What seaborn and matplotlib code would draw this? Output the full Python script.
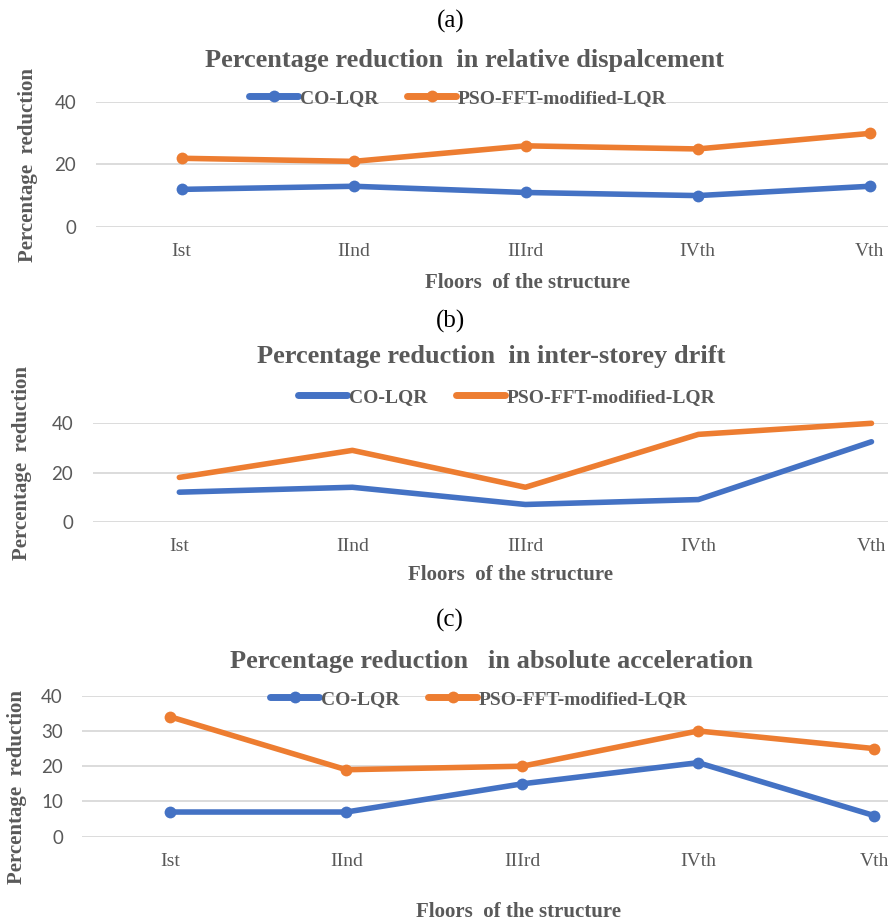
import matplotlib
matplotlib.use("Agg")
import matplotlib.pyplot as plt
import seaborn as sns
import pandas as pd

# Floors and results for the three response quantities
floors = ["Ist", "IInd", "IIIrd", "IVth", "Vth"]
series_names = ["CO-LQR", "PSO-FFT-modified-LQR"]

disp_co = [12, 13, 11, 10, 13]
disp_pso = [22, 21, 26, 25, 30]

drift_co = [12, 14, 7, 9, 32.5]
drift_pso = [18, 29, 14, 35.5, 40]

acc_co = [7, 7, 15, 21, 6]
acc_pso = [34, 19, 20, 30, 25]

panel_tags = ["(a)", "(b)", "(c)"]
titles = [
    "Percentage reduction  in relative dispalcement",
    "Percentage reduction  in inter-storey drift",
    "Percentage reduction   in absolute acceleration",
]
yticks_list = [[0, 20, 40], [0, 20, 40], [0, 10, 20, 30, 40]]

sns.set_style("white")
plt.rcParams["font.family"] = ["Liberation Serif", "DejaVu Serif"]

BLUE = "#4472C4"
ORANGE = "#ED7D31"
GREY = "#595959"
GRID = "#D9D9D9"

W, H = 888, 922
fig = plt.figure(figsize=(W / 100, H / 100), dpi=100)
fig.patch.set_facecolor("white")


def px(x, y):
    """pixel position (from top-left) -> figure fraction"""
    return x / W, 1 - y / H


# axes boxes in pixels: left, right, top(40 line), bottom(0 line)
boxes = [
    (95.7, 955.7, 102.3, 226.7),
    (92.8, 958.0, 423.3, 521.7),
    (82.4, 962.0, 695.7, 836.7),
]
tag_pos = [(451, 21), (450, 321), (450, 620)]
title_pos = [(464, 61), (491, 357), (491, 661)]
legend_pos = [(458, 98), (507, 397), (479, 699)]
xlabel_pos = [(527, 283), (511, 575), (518, 912)]
ylabel_pos = [(28, 165), (22, 463), (17, 787)]
with_markers = [True, False, True]

data_sets = [(disp_co, disp_pso), (drift_co, drift_pso), (acc_co, acc_pso)]

for i, (co, pso) in enumerate(data_sets):
    l, r, t, b = boxes[i]
    ax = fig.add_axes([l / W, 1 - b / H, (r - l) / W, (b - t) / H])
    df = pd.DataFrame({
        "floor": floors * 2,
        "value": list(co) + list(pso),
        "series": [series_names[0]] * 5 + [series_names[1]] * 5,
    })
    mk = "o" if with_markers[i] else None
    for name, color in zip(series_names, [BLUE, ORANGE]):
        sub = df[df["series"] == name]
        sns.lineplot(
            data=sub, x="floor", y="value", ax=ax, color=color, label=name,
            linewidth=4.0, marker=mk, markersize=8.5, markeredgewidth=0,
            sort=False, clip_on=False, solid_capstyle="round",
            solid_joinstyle="round", legend=False,
        )
    ax.set_xlim(-0.5, 4.5)
    ax.set_ylim(0, 40)
    ax.set_yticks(yticks_list[i])
    for s in ax.spines.values():
        s.set_visible(False)
    ax.grid(axis="y", color=GRID, linewidth=1.3)
    ax.grid(axis="x", visible=False)
    ax.set_axisbelow(True)
    ax.tick_params(axis="both", length=0)
    ax.tick_params(axis="y", pad=14, labelsize=13.5, labelcolor=GREY)
    ax.tick_params(axis="x", pad=12, labelsize=14, labelcolor=GREY)
    for lab in ax.get_yticklabels():
        lab.set_family(["Lato", "DejaVu Sans"])
    ax.set_xlabel("")
    ax.set_ylabel("")
    ax.set_facecolor("none")

    # panel tag, title, axis captions
    fig.text(*px(*tag_pos[i]), panel_tags[i], ha="center", va="center",
             fontsize=18, color="black")
    fig.text(*px(*title_pos[i]), titles[i], ha="center", va="center",
             fontsize=19, fontweight="bold", color=GREY)
    fig.text(*px(*xlabel_pos[i]), "Floors  of the structure", ha="center",
             va="center", fontsize=15, fontweight="bold", color=GREY)
    fig.text(*px(*ylabel_pos[i]), "Percentage  reduction", ha="center",
             va="center", rotation=90, fontsize=15, fontweight="bold",
             color=GREY)

    handles, labels = ax.get_legend_handles_labels()
    leg = fig.legend(
        handles, labels, loc="center", bbox_to_anchor=px(*legend_pos[i]),
        ncol=2, frameon=False, handlelength=2.5, handletextpad=0.1,
        columnspacing=1.5, prop={"size": 14, "weight": "bold"},
    )
    for txt in leg.get_texts():
        txt.set_color(GREY)
    for h in leg.legend_handles:
        h.set_linewidth(5)

fig.savefig("out.png", dpi=100, facecolor="white")
